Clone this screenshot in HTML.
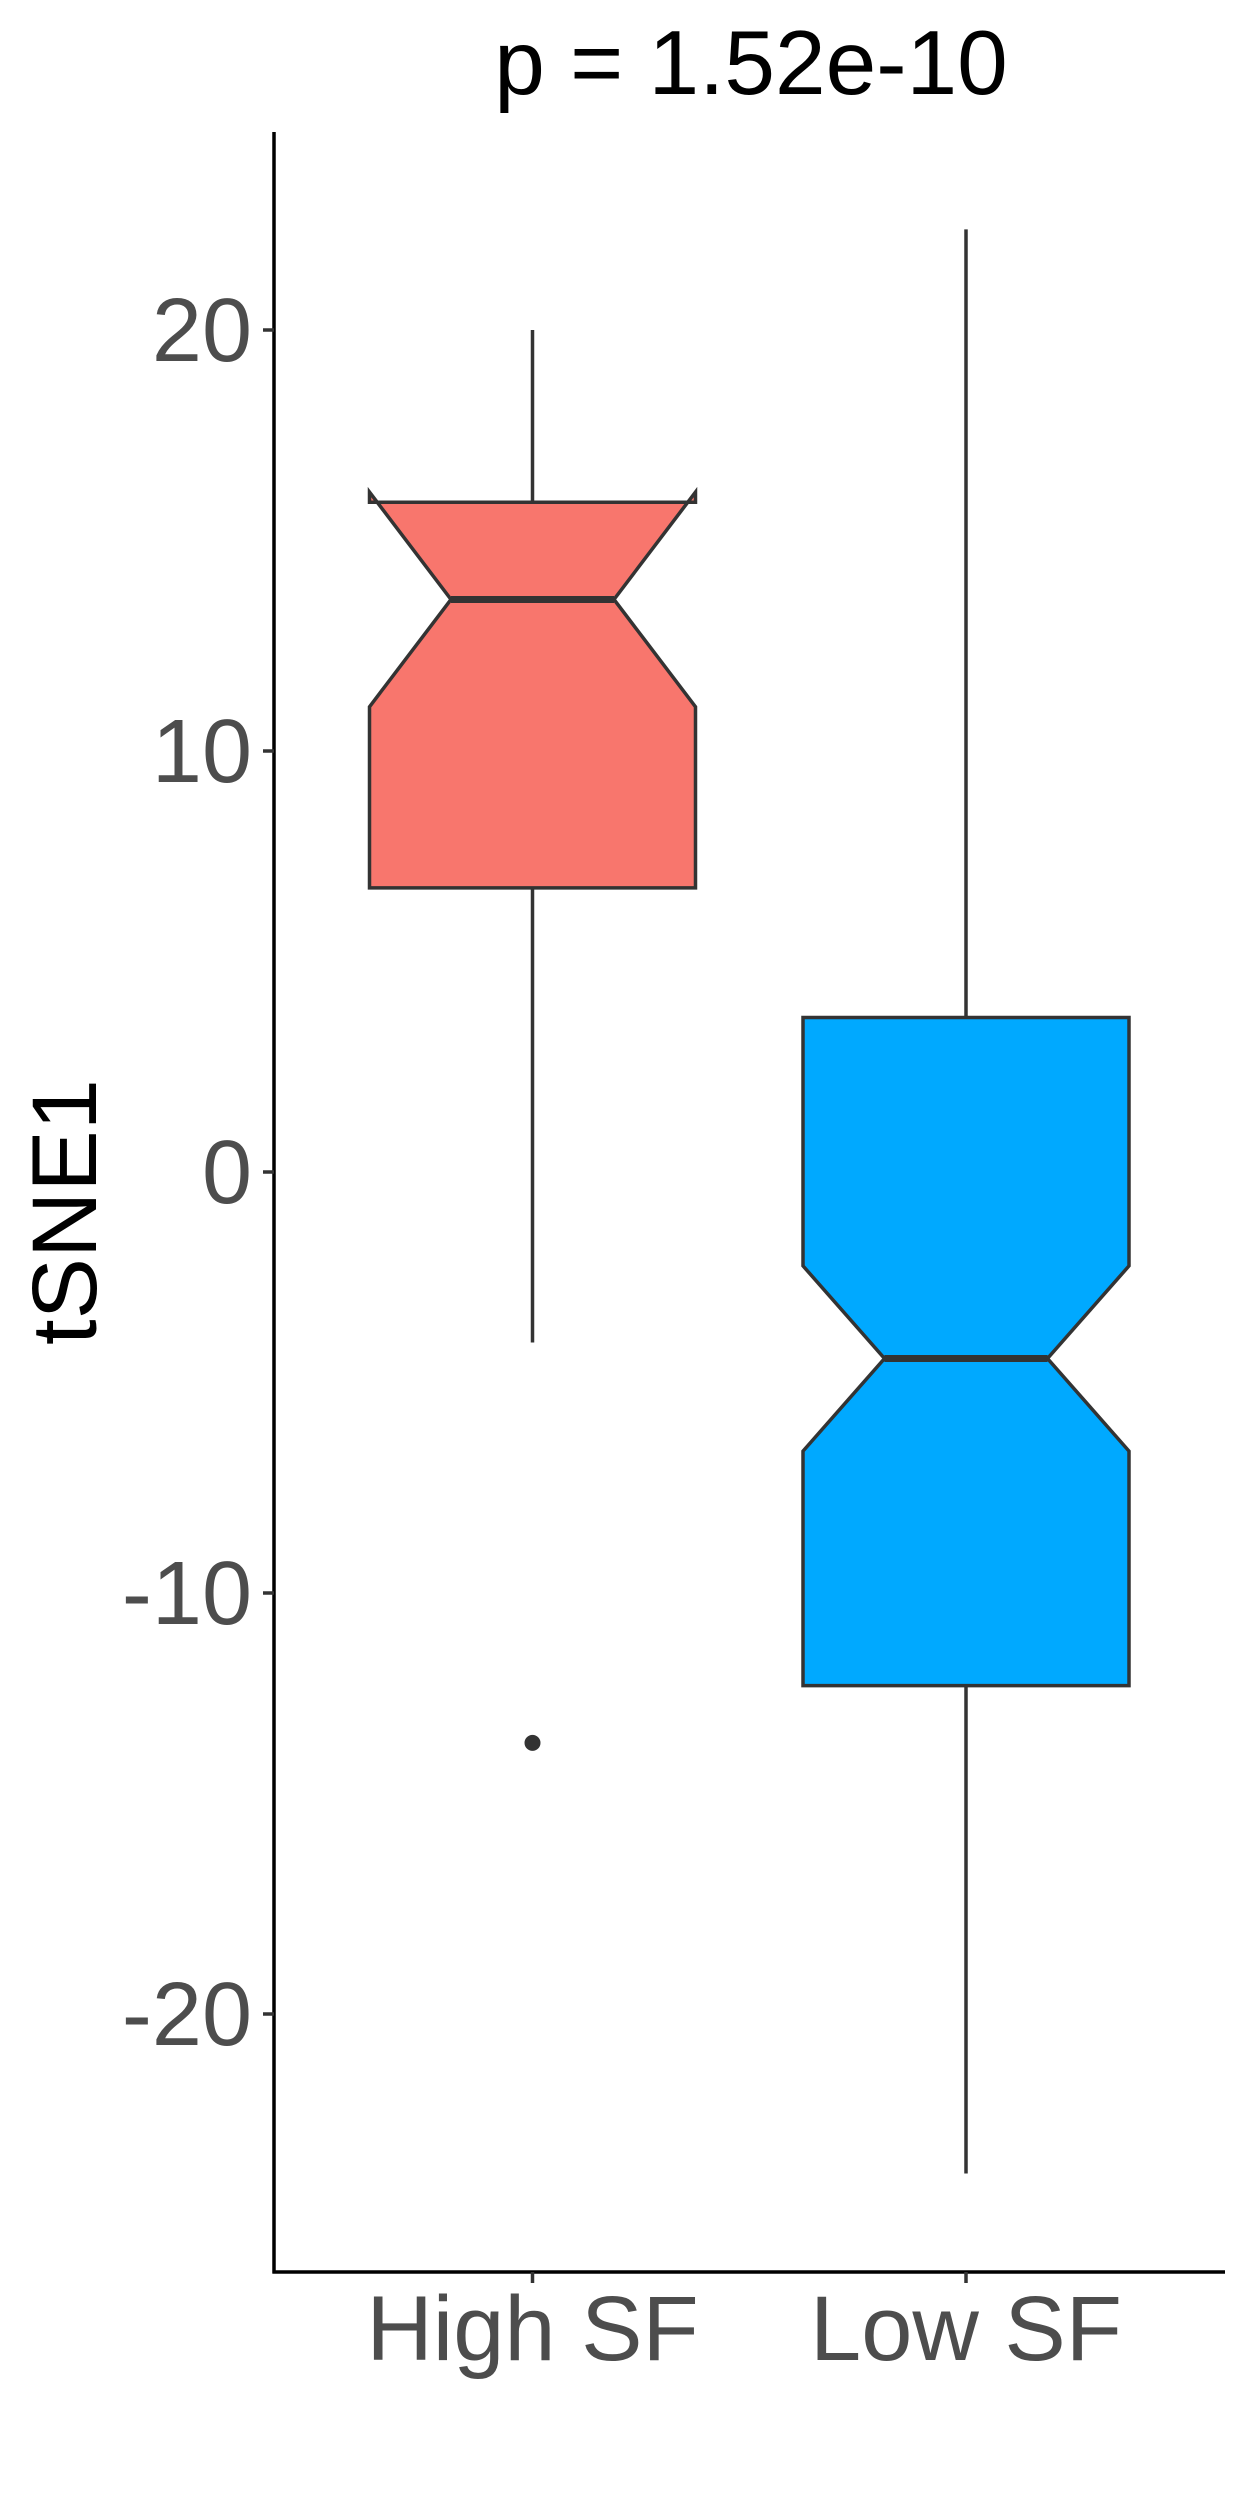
<!DOCTYPE html>
<html><head><meta charset="utf-8"><style>
html,body{margin:0;padding:0;background:#fff;}
svg{display:block;font-family:"Liberation Sans",Arial,sans-serif;}
</style></head><body>
<svg id="chart" width="1250" height="2500" viewBox="0 0 1250 2500">
<text x="751" y="94" font-size="91" text-anchor="middle" fill="#000">p = 1.52e-10</text>
<g id="axes"></g>
<g id="boxes"></g>
<text transform="translate(96,1212) rotate(-90)" font-size="92" text-anchor="middle" fill="#000">tSNE1</text>
</svg>
<script>
const categories = ["High SF", "Low SF"];
const fills = ["#F8766D", "#00A9FF"];
const q1 = [6.75, -12.2];
const q3 = [15.91, 3.67];
const medians = [13.6, -4.43];
const notchLow = [11.05, -6.63];
const notchHigh = [16.15, -2.23];
const whiskLow = [-4.05, -23.79];
const whiskHigh = [20.0, 22.39];
const outliers = [[-13.56], []];
const yTicks = [-20, -10, 0, 10, 20];

const NS = "http://www.w3.org/2000/svg";
const plotL = 274, plotR = 1225, plotT = 132, plotB = 2272;
function y(v){ return 1172 - 42.1 * v; }
function x(i){ return 532.5 + i * 433.5; }
const halfW = 163;
function mk(tag, attrs, parent){ const e = document.createElementNS(NS, tag); for (const k in attrs) e.setAttribute(k, attrs[k]); parent.appendChild(e); return e; }

const axes = document.getElementById('axes');
const yl = mk('line', {x1:plotL, y1:plotT, x2:plotL, y2:plotB+1.5, stroke:'#000', 'stroke-width':3.5}, axes);


const xl = mk('line', {x1:plotL-1.5, y1:plotB, x2:plotR, y2:plotB, stroke:'#000', 'stroke-width':3.5}, axes);


yTicks.forEach(t => {
  const tk = mk('line', {x1:plotL-11, y1:y(t), x2:plotL, y2:y(t), stroke:'#333', 'stroke-width':3.5}, axes);
  
  
  const lb = mk('text', {x:plotL-22, y:y(t)+31, 'font-size':90, 'text-anchor':'end', fill:'#4d4d4d'}, axes);
  lb.textContent = String(t);
  
  
});
categories.forEach((c, i) => {
  const tk = mk('line', {x1:x(i), y1:plotB, x2:x(i), y2:plotB+11, stroke:'#333', 'stroke-width':3.5}, axes);
  
  
  const lb = mk('text', {x:x(i), y:2360, 'font-size':92, 'text-anchor':'middle', fill:'#4d4d4d'}, axes);
  lb.textContent = c;
  
  
});

const boxes = document.getElementById('boxes');
categories.forEach((c, i) => {
  const cx = x(i), l = cx - halfW, r = cx + halfW, nl = cx - halfW/2, nr = cx + halfW/2;
  const g = mk('g', {}, boxes);
  
  
  const w1 = mk('line', {x1:cx, y1:y(whiskHigh[i]), x2:cx, y2:y(q3[i]), stroke:'#333', 'stroke-width':3.5}, g);
  
  
  const w2 = mk('line', {x1:cx, y1:y(q1[i]), x2:cx, y2:y(whiskLow[i]), stroke:'#333', 'stroke-width':3.5}, g);
  
  
  const pts = [[l,y(q1[i])],[l,y(notchLow[i])],[nl,y(medians[i])],[l,y(notchHigh[i])],[l,y(q3[i])],
               [r,y(q3[i])],[r,y(notchHigh[i])],[nr,y(medians[i])],[r,y(notchLow[i])],[r,y(q1[i])]];
  const poly = mk('polygon', {points:pts.map(p=>p.join(',')).join(' '), fill:fills[i], stroke:'#333', 'stroke-width':3.5, 'stroke-linejoin':'miter'}, g);
  
  
  const md = mk('line', {x1:nl, y1:y(medians[i]), x2:nr, y2:y(medians[i]), stroke:'#333', 'stroke-width':7}, g);
  
  
  outliers[i].forEach(o => {
    const pt = mk('circle', {cx:cx, cy:y(o), r:8, fill:'#333'}, g);
    
    
  });
});
</script>
</body></html>
